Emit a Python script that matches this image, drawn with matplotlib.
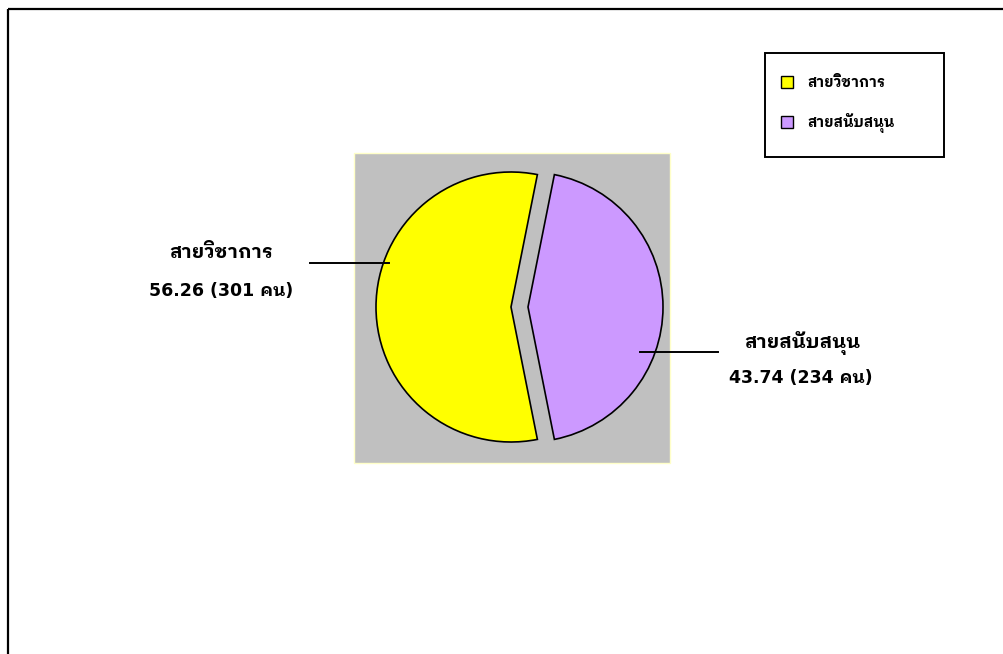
import matplotlib
matplotlib.use('Agg')
import matplotlib.pyplot as plt
from matplotlib.patches import Rectangle, Patch

plt.rcParams['font.family'] = ['DejaVu Sans', 'IBM Plex Sans Thai Looped']

groups = ['สายวิชาการ', 'สายสนับสนุน']
counts = [301, 234]
colors = ['#FFFF00', '#CC99FF']
explode_px = [0, 17]

W, H = 1004, 654
total = sum(counts)
shares = [c / total * 100 for c in counts]

fig = plt.figure(figsize=(W / 100, H / 100), dpi=100)
ax = fig.add_axes([0, 0, 1, 1])
ax.set_xlim(0, W)
ax.set_ylim(0, H)
ax.axis('off')


def yy(y):
    # image rows run downward, axes y runs upward
    return H - y


# outer frame (only top and left edges fall inside the page)
ax.plot([8, W], [yy(8.5), yy(8.5)], color='black', lw=1.6, solid_capstyle='butt')
ax.plot([8, 8], [yy(8.5), 0], color='black', lw=1.6, solid_capstyle='butt')

# grey plot area
ax.add_patch(Rectangle((354, yy(463)), 316, 310, facecolor='#C0C0C0',
                       edgecolor='#FFFFC8', lw=1.0, zorder=1))

radius = 135
wedges, _ = ax.pie(counts, colors=colors, radius=radius, center=(511, yy(307)),
                   explode=explode_px,
                   startangle=-shares[1] * 1.8, counterclock=False, frame=True,
                   wedgeprops=dict(edgecolor='black', linewidth=1.2))
for w in wedges:
    w.set_zorder(2)
ax.set_xlim(0, W)
ax.set_ylim(0, H)
ax.set_aspect('auto')

# leader lines and data labels (name line, value line baselines)
name_pos = [(221.5, 258), (802.5, 348)]
value_pos = [(221.5, 296), (800.5, 383)]
lines = [((310, 389), 263), ((640, 718), 352)]
for name, n, pct, (nx, ny), (vx, vy), ((x0, x1), ly) in zip(
        groups, counts, shares, name_pos, value_pos, lines):
    ax.plot([x0, x1], [yy(ly), yy(ly)], color='black', lw=1.4, zorder=3)
    ax.text(nx, yy(ny), name, ha='center', va='baseline',
            fontsize=14, fontweight='bold', zorder=3)
    ax.text(vx, yy(vy), f'{pct:.2f} ({n} คน)', ha='center', va='baseline',
            fontsize=12.5, fontweight='bold', zorder=3)

# legend
ax.add_patch(Rectangle((765, yy(157)), 179, 104, facecolor='white',
                       edgecolor='black', lw=1.4, zorder=4))
handles = [Patch(facecolor=c, edgecolor='black', lw=1.0) for c in colors]
ax.legend(handles, groups, loc='center left', bbox_to_anchor=(781, yy(104)),
          bbox_transform=ax.transData, frameon=False, prop=dict(size=10.5, weight='bold'),
          handlelength=0.85, handleheight=0.85, handletextpad=1.0, labelspacing=1.55,
          borderpad=0, borderaxespad=0).set_zorder(5)

fig.savefig('out.png', dpi=100)
